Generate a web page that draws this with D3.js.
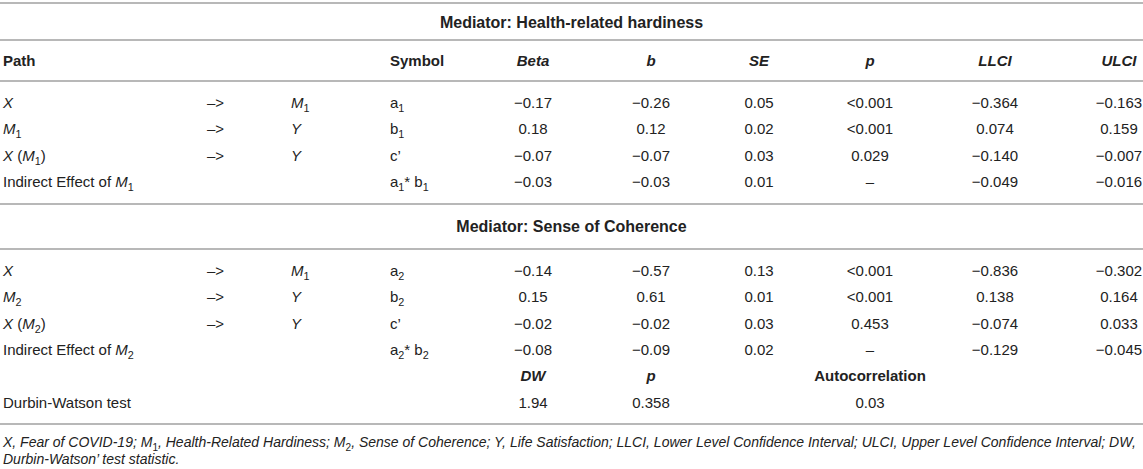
<!DOCTYPE html>
<html>
<head>
<meta charset="utf-8">
<script src="https://cdn.jsdelivr.net/npm/d3@7"></script>
<style>
  body { margin: 0; background: #fff; }
  svg text { font-family: "Liberation Sans", Arial, sans-serif; fill: #222; }
</style>
</head>
<body>
<div id="table"></div>
<script>
// 表格数据
const headings = ['Mediator: Health-related hardiness', 'Mediator: Sense of Coherence'];
const header = ['Path', '', '', 'Symbol', '<i>Beta</i>', '<i>b</i>', '<i>SE</i>', '<i>p</i>', '<i>LLCI</i>', '<i>ULCI</i>'];

const pathFrom1 = ['<i>X</i>', '<i>M</i><sub>1</sub>', '<i>X</i> (<i>M</i><sub>1</sub>)', 'Indirect Effect of <i>M</i><sub>1</sub>'];
const pathTo1 = ['<i>M</i><sub>1</sub>', '<i>Y</i>', '<i>Y</i>', ''];
const symbol1 = ['a<sub>1</sub>', 'b<sub>1</sub>', 'c\u2019', 'a<sub>1</sub>* b<sub>1</sub>'];
const beta1 = [-0.17, 0.18, -0.07, -0.03];
const b1 = [-0.26, 0.12, -0.07, -0.03];
const se1 = [0.05, 0.02, 0.03, 0.01];
const p1 = ['<0.001', '<0.001', '0.029', '\u2013'];
const llci1 = [-0.364, 0.074, -0.140, -0.049];
const ulci1 = [-0.163, 0.159, -0.007, -0.016];

const pathFrom2 = ['<i>X</i>', '<i>M</i><sub>2</sub>', '<i>X</i> (<i>M</i><sub>2</sub>)', 'Indirect Effect of <i>M</i><sub>2</sub>'];
const pathTo2 = ['<i>M</i><sub>1</sub>', '<i>Y</i>', '<i>Y</i>', ''];
const symbol2 = ['a<sub>2</sub>', 'b<sub>2</sub>', 'c\u2019', 'a<sub>2</sub>* b<sub>2</sub>'];
const beta2 = [-0.14, 0.15, -0.02, -0.08];
const b2 = [-0.57, 0.61, -0.02, -0.09];
const se2 = [0.13, 0.01, 0.03, 0.02];
const p2 = ['<0.001', '<0.001', '0.453', '\u2013'];
const llci2 = [-0.836, 0.138, -0.074, -0.129];
const ulci2 = [-0.302, 0.164, 0.033, -0.045];

const dwHeader = ['<i>DW</i>', '<i>p</i>', 'Autocorrelation'];
const dwLabel = 'Durbin-Watson test';
const dwValue = 1.94;
const dwP = 0.358;
const dwAuto = 0.03;

const footnote = [
  'X, Fear of COVID-19; M<sub>1</sub>, Health-Related Hardiness; M<sub>2</sub>, Sense of Coherence; Y, Life Satisfaction; LLCI, Lower Level Confidence Interval; ULCI, Upper Level Confidence Interval; DW,',
  'Durbin-Watson\u2019 test statistic.'
];

const width = 1143, height = 469;
const fontSize = 15;

// 列的位置和对齐方式
const columns = [
  { x: 3, anchor: 'start' },
  { x: 207, anchor: 'start' },
  { x: 291, anchor: 'start' },
  { x: 390, anchor: 'start' },
  { x: 533, anchor: 'middle' },
  { x: 651, anchor: 'middle' },
  { x: 759, anchor: 'middle' },
  { x: 870, anchor: 'middle' },
  { x: 995, anchor: 'middle' },
  { x: 1119, anchor: 'middle' }
];

const fmt2 = d3.format('.2f'), fmt3 = d3.format('.3f');
const minus = s => s.replace('-', '\u2013');

function blockRows(from, to, sym, beta, b, se, p, ll, ul) {
  return from.map((d, i) => [
    d, to[i] ? '\u2013>' : '', to[i], sym[i],
    minus(fmt2(beta[i])), minus(fmt2(b[i])), fmt2(se[i]), p[i],
    minus(fmt3(ll[i])), minus(fmt3(ul[i]))
  ]);
}

const rows1 = blockRows(pathFrom1, pathTo1, symbol1, beta1, b1, se1, p1, llci1, ulci1);
const rows2 = blockRows(pathFrom2, pathTo2, symbol2, beta2, b2, se2, p2, llci2, ulci2);

// 行的纵向位置（行中心）
const rowY1 = d3.scaleLinear().domain([0, 3]).range([103, 182]);
const rowY2 = d3.scaleLinear().domain([0, 3]).range([271, 350]);

const svg = d3.select('#table').append('svg')
  .attr('width', width)
  .attr('height', height)
  .style('display', 'block');

// 把简单的 <i> <sub> 标记拆成 tspan
function richText(sel, str, { bold = false, italic = false } = {}) {
  const parts = str.split(/(<i>.*?<\/i>|<sub>.*?<\/sub>)/).filter(d => d !== '');
  let shifted = false;
  parts.forEach(part => {
    let txt = part, it = italic, sub = false;
    if (part.startsWith('<i>')) { txt = part.slice(3, -4); it = true; }
    else if (part.startsWith('<sub>')) { txt = part.slice(5, -6); sub = true; }
    const t = sel.append('tspan').text(txt)
      .style('font-style', it ? 'italic' : 'normal')
      .style('font-weight', bold ? 'bold' : 'normal');
    if (sub) {
      t.attr('dy', shifted ? 0 : 4).style('font-size', '0.72em').style('font-style', 'normal');
      shifted = true;
    } else if (shifted) {
      t.attr('dy', -4);
      shifted = false;
    }
  });
}

function drawRow(cells, y, opts) {
  cells.forEach((c, i) => {
    if (!c) return;
    const t = svg.append('text')
      .attr('x', columns[i].x)
      .attr('y', y + 5)
      .attr('text-anchor', columns[i].anchor)
      .style('font-size', fontSize + 'px');
    richText(t, c, opts);
  });
}

function hline(y) {
  svg.append('line')
    .attr('x1', 0).attr('x2', width)
    .attr('y1', y).attr('y2', y)
    .attr('stroke', '#b8b8b8')
    .attr('stroke-width', 2);
}

function heading(str, y) {
  svg.append('text')
    .attr('x', width / 2)
    .attr('y', y + 5.5)
    .attr('text-anchor', 'middle')
    .style('font-size', '16px')
    .style('font-weight', 'bold')
    .text(str);
}

hline(3);
heading(headings[0], 22);
hline(40);
drawRow(header, 60.5, { bold: true });
hline(81);
rows1.forEach((r, i) => drawRow(r, rowY1(i)));
hline(204);
heading(headings[1], 226.5);
hline(249);
rows2.forEach((r, i) => drawRow(r, rowY2(i)));

// Durbin-Watson 部分
drawRow(['', '', '', '', dwHeader[0], dwHeader[1], '', dwHeader[2]], rowY2(4), { bold: true });
drawRow([dwLabel, '', '', '', fmt2(dwValue), fmt3(dwP), '', fmt2(dwAuto)], rowY2(5));
hline(424);

// 注释
footnote.forEach((line, i) => {
  const t = svg.append('text')
    .attr('x', 3)
    .attr('y', 442 + i * 17 + 5)
    .style('font-size', '14px');
  richText(t, line, { italic: true });
});
</script>
</body>
</html>
